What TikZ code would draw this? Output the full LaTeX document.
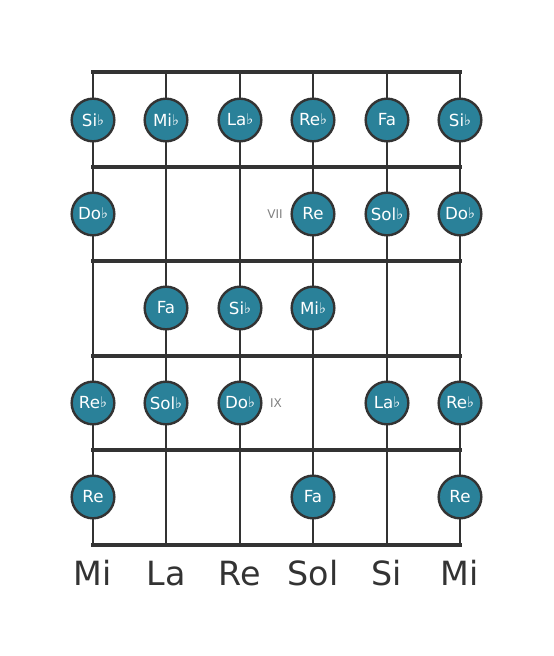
\documentclass[tikz,border=0pt]{standalone}
\usepackage{fontspec}
\setmainfont{DejaVu Sans}
\definecolor{linec}{HTML}{333333}
\definecolor{notec}{HTML}{2A8199}
\definecolor{romc}{HTML}{808080}
\newcommand{\fl}{{\fontsize{11}{11}\selectfont\raisebox{0.15ex}{♭}}}
\tikzset{
  fret/.style={line width=3.6pt, draw=linec},
  strg/.style={line width=2.2pt, draw=linec},
  note/.style={circle, draw=linec, line width=1.8pt, fill=notec, minimum size=32pt, inner sep=0pt, text=white, font=\fontsize{12.5}{12.5}\selectfont},
  strlab/.style={text=linec, font=\fontsize{25}{25}\selectfont, anchor=base},
  roman/.style={text=romc, font=\fontsize{9}{9}\selectfont}
}
\begin{document}
\begin{tikzpicture}[x=0.75pt,y=-0.75pt]
\useasboundingbox (0,0) rectangle (553,656);
\foreach \i/\x in {1/93,2/166,3/240,4/313,5/387,6/460}{
  \coordinate (st\i) at (\x,72);
  \coordinate (sb\i) at (\x,545);
  \draw[strg] (st\i) -- (sb\i);
}
\foreach \j/\y in {0/72,1/167,2/261,3/356,4/450,5/545}{
  \coordinate (fl\j) at (93,\y);
  \coordinate (fr\j) at (460,\y);
  \draw[fret, line cap=rect] (fl\j) -- (fr\j);
}
% row 1
\node[note] (n11) at (93,120) {Si\fl};
\node[note] (n12) at (166,120) {Mi\fl};
\node[note] (n13) at (240,120) {La\fl};
\node[note] (n14) at (313,120) {Re\fl};
\node[note] (n15) at (387,120) {Fa};
\node[note] (n16) at (460,120) {Si\fl};
% row 2
\node[note] (n21) at (93,214) {Do\fl};
\node[note] (n24) at (313,214) {Re};
\node[note] (n25) at (387,214) {Sol\fl};
\node[note] (n26) at (460,214) {Do\fl};
\node[roman] (r7) at (275,214) {VII};
% row 3
\node[note] (n32) at (166,308) {Fa};
\node[note] (n33) at (240,308) {Si\fl};
\node[note] (n34) at (313,308) {Mi\fl};
% row 4
\node[note] (n41) at (93,403) {Re\fl};
\node[note] (n42) at (166,403) {Sol\fl};
\node[note] (n43) at (240,403) {Do\fl};
\node[note] (n45) at (387,403) {La\fl};
\node[note] (n46) at (460,403) {Re\fl};
\node[roman] (r9) at (276,403) {IX};
% row 5
\node[note] (n51) at (93,497) {Re};
\node[note] (n54) at (313,497) {Fa};
\node[note] (n56) at (460,497) {Re};
% string labels
\node[strlab] (l1) at (93,585) {Mi};
\node[strlab] (l2) at (166,585) {La};
\node[strlab] (l3) at (240,585) {Re};
\node[strlab] (l4) at (313,585) {Sol};
\node[strlab] (l5) at (387,585) {Si};
\node[strlab] (l6) at (460,585) {Mi};
\end{tikzpicture}
\end{document}
